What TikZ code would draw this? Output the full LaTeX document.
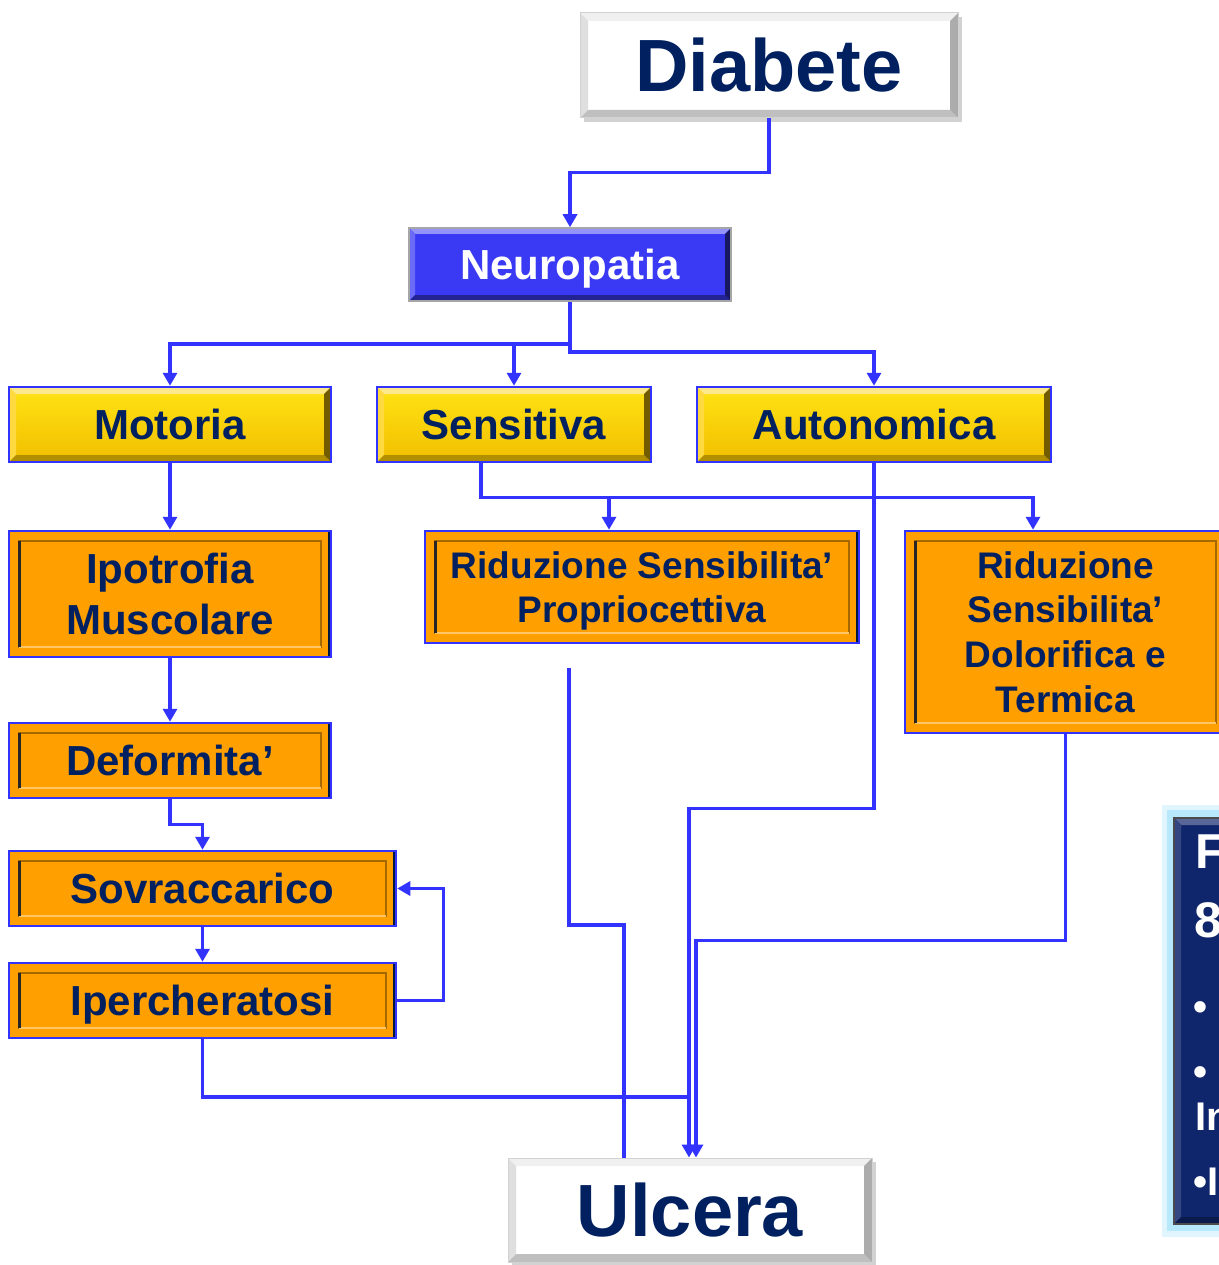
\documentclass[tikz,border=0pt]{standalone}
\usepackage{fontspec}
\setmainfont{Liberation Sans}
\usetikzlibrary{arrows.meta,shadows}
\definecolor{lineblue}{RGB}{51,51,255}
\definecolor{navytxt}{RGB}{0,32,96}
\definecolor{goldy}{RGB}{255,204,0}
\definecolor{orng}{RGB}{255,160,0}
\definecolor{neublue}{RGB}{58,58,245}
\definecolor{darkbox}{RGB}{16,38,108}
\tikzset{
  bevel/.style n args={5}{path picture={
    \def\ppb{path picture bounding box}
    \fill[#2] (\ppb.north west) -- (\ppb.north east) -- ([xshift=-#1,yshift=-#1]\ppb.north east) -- ([xshift=#1,yshift=-#1]\ppb.north west) -- cycle;
    \fill[#3] (\ppb.north west) -- (\ppb.south west) -- ([xshift=#1,yshift=#1]\ppb.south west) -- ([xshift=#1,yshift=-#1]\ppb.north west) -- cycle;
    \fill[#4] (\ppb.south west) -- (\ppb.south east) -- ([xshift=-#1,yshift=#1]\ppb.south east) -- ([xshift=#1,yshift=#1]\ppb.south west) -- cycle;
    \fill[#5] (\ppb.north east) -- (\ppb.south east) -- ([xshift=-#1,yshift=#1]\ppb.south east) -- ([xshift=-#1,yshift=-#1]\ppb.north east) -- cycle;
  }},
  sunken/.style={path picture={
    \def\ppb{path picture bounding box}
    \fill[navytxt!70!black] ([xshift=-3pt]\ppb.north east) rectangle (\ppb.south east);
    \draw[line width=2pt, orng!65!black] ([xshift=10pt,yshift=-10pt]\ppb.north west) rectangle ([xshift=-10pt,yshift=10pt]\ppb.south east);
    \draw[line width=2pt, orng!60!white] ([xshift=10pt,yshift=10pt]\ppb.south west) -- ([xshift=-10pt,yshift=10pt]\ppb.south east);
    \draw[line width=3pt, black!85] ([xshift=10pt,yshift=-10pt]\ppb.north west) -- ([xshift=10pt,yshift=10pt]\ppb.south west);
  }},
  whitebox/.style={rectangle, inner sep=0pt, fill=white, draw=gray!35, line width=1pt,
    drop shadow={shadow xshift=4pt, shadow yshift=-4pt, opacity=0.35},
    bevel={8pt}{gray!12}{gray!25}{gray!50}{gray!65},
    text=navytxt, font=\fontsize{74}{80}\selectfont\bfseries, text height=60pt, text depth=7pt},
  bluebox/.style={rectangle, inner sep=0pt, fill=neublue, draw=gray!70, line width=1.5pt,
    bevel={6pt}{neublue!55!white}{neublue!75!white}{neublue!60!black}{neublue!40!black},
    text=white, font=\fontsize{42}{51}\selectfont\bfseries, text height=36pt, text depth=6pt},
  yellowbox/.style={rectangle, inner sep=0pt, draw=lineblue, line width=2.5pt,
    top color={rgb,255:red,255;green,228;blue,20}, bottom color={rgb,255:red,242;green,190;blue,0},
    bevel={7pt}{goldy!45!white}{goldy!75!white}{goldy!70!black}{goldy!45!black},
    text=navytxt, font=\fontsize{42}{51}\selectfont\bfseries, text height=36pt, text depth=6pt},
  orangebox/.style={rectangle, inner sep=0pt, draw=lineblue, line width=2.5pt, fill=orng,
    sunken, text=navytxt, align=center, font=\fontsize{42}{51}\selectfont\bfseries},
  single/.style={text height=36pt, text depth=6pt},
  smalltext/.style={font=\fontsize{37}{44.6}\selectfont\bfseries},
  plaintext/.style={inner sep=0pt, text=navytxt, align=center},
  rboxstyle/.style={rectangle, inner sep=0pt, fill=darkbox, draw=black!70, line width=2pt,
    bevel={7pt}{darkbox!70!white}{darkbox!85!white}{darkbox!70!black}{darkbox!60!black}},
  rtext/.style={text=white, inner sep=0pt, font=\fontsize{40}{44}\selectfont\bfseries},
  conn/.style={draw=lineblue, line width=3.5pt, -{Triangle[length=13pt,width=14pt]}},
  plain/.style={draw=lineblue, line width=3.5pt},
}
\begin{document}
\begin{tikzpicture}[x=1pt,y=-1pt]
\useasboundingbox (0,0) rectangle (1218,1265);
\fill[white] (0,0) rectangle (1218,1265);

% right dark box (cut by page edge, as in the reference)
\fill[cyan!12] (1162,805) rectangle (1250,1237);
\fill[cyan!28] (1167,810) rectangle (1250,1231);
\node[rboxstyle, minimum width=70pt, minimum height=406pt] (rbox) at (1209,1021) {};
\node[rtext, anchor=base west, font=\fontsize{49}{50}\selectfont\bfseries] (r1) at (1195,868) {F};
\node[rtext, anchor=base west, font=\fontsize{50}{50}\selectfont\bfseries] (r2) at (1194,937) {8};
\node[rtext, anchor=base west] (r3) at (1193,1020) {•};
\node[rtext, anchor=base west] (r4) at (1193,1085) {•};
\node[rtext, anchor=base west] (r5) at (1195,1130) {In};
\node[rtext, anchor=base west] (r6) at (1193,1195) {•I};

% nodes
\node[whitebox, minimum width=378pt, minimum height=105pt] (dia) at (769,65.5) {Diabete};
\node[bluebox, minimum width=322pt, minimum height=73pt] (neu) at (570,264.5) {Neuropatia};
\node[yellowbox, minimum width=322pt, minimum height=75pt] (mot) at (170,424.5) {Motoria};
\node[yellowbox, minimum width=274pt, minimum height=75pt] (sen) at (514,424.5) {Sensitiva};
\node[yellowbox, minimum width=354pt, minimum height=75pt] (aut) at (874,424.5) {Autonomica};
\node[orangebox, minimum width=322pt, minimum height=126pt] (ipo) at (170,594) {Ipotrofia\\Muscolare};
\node[orangebox, single, minimum width=322pt, minimum height=75pt] (dfm) at (170,760.5) {Deformita’};
\node[orangebox, single, minimum width=387pt, minimum height=75pt] (sov) at (202.5,888.5) {Sovraccarico};
\node[orangebox, single, minimum width=387pt, minimum height=75pt] (ipe) at (202.5,1000.5) {Ipercheratosi};
\node[orangebox, minimum width=434pt, minimum height=112pt] (rsp) at (642,587) {};
\node[plaintext, smalltext] (rspt) at (642,591) {Riduzione Sensibilita’\\Propriocettiva};
\node[orangebox, smalltext, minimum width=321pt, minimum height=202pt] (rsd) at (1065.5,632) {Riduzione\\Sensibilita’\\Dolorifica e\\Termica};
\node[whitebox, minimum width=364pt, minimum height=104pt] (ulc) at (690,1210) {Ulcera};

% connectors
\draw[conn] (dia.south) -- ++(0,54) -| (neu.north);
\coordinate (jn) at ([yshift=-42pt]neu.south);
\draw[conn] (neu.south) -- (jn) -| (mot.north);
\draw[conn] (jn -| sen.north) -- (sen.north);
\draw[conn] (neu.south) -- ++(0,50) -| (aut.north);
\draw[conn] (mot.south) -- (ipo.north);
\draw[conn] (ipo.south) -- (dfm.north);
\draw[conn] (dfm.south) -- ++(0,25) -| (sov.north);
\draw[conn] (sov.south) -- (ipe.north);
\draw[conn] (ipe.east) -- ++(46,0) |- (sov.east);
\coordinate (js) at ([xshift=-33pt]sen.south);
\draw[conn] (js) -- ++(0,34) -| ([xshift=-32.5pt]rsd.north);
\draw[conn] ([xshift=-33pt]rsp.north |- 0,497) -- ([xshift=-33pt]rsp.north);
\draw[conn] (aut.south) -- ++(0,345) -| ([xshift=-1pt]ulc.north);
\draw[conn] (rsd.south) -- ++(0,206) -| ([xshift=6pt]ulc.north);
\coordinate (ju) at (689,1097);
\draw[plain] (ipe.south) |- (ju);
\coordinate (ps) at (569,668);
\draw[plain] (ps) -- (569,925) -| ([xshift=-66pt]ulc.north);
\end{tikzpicture}
\end{document}
